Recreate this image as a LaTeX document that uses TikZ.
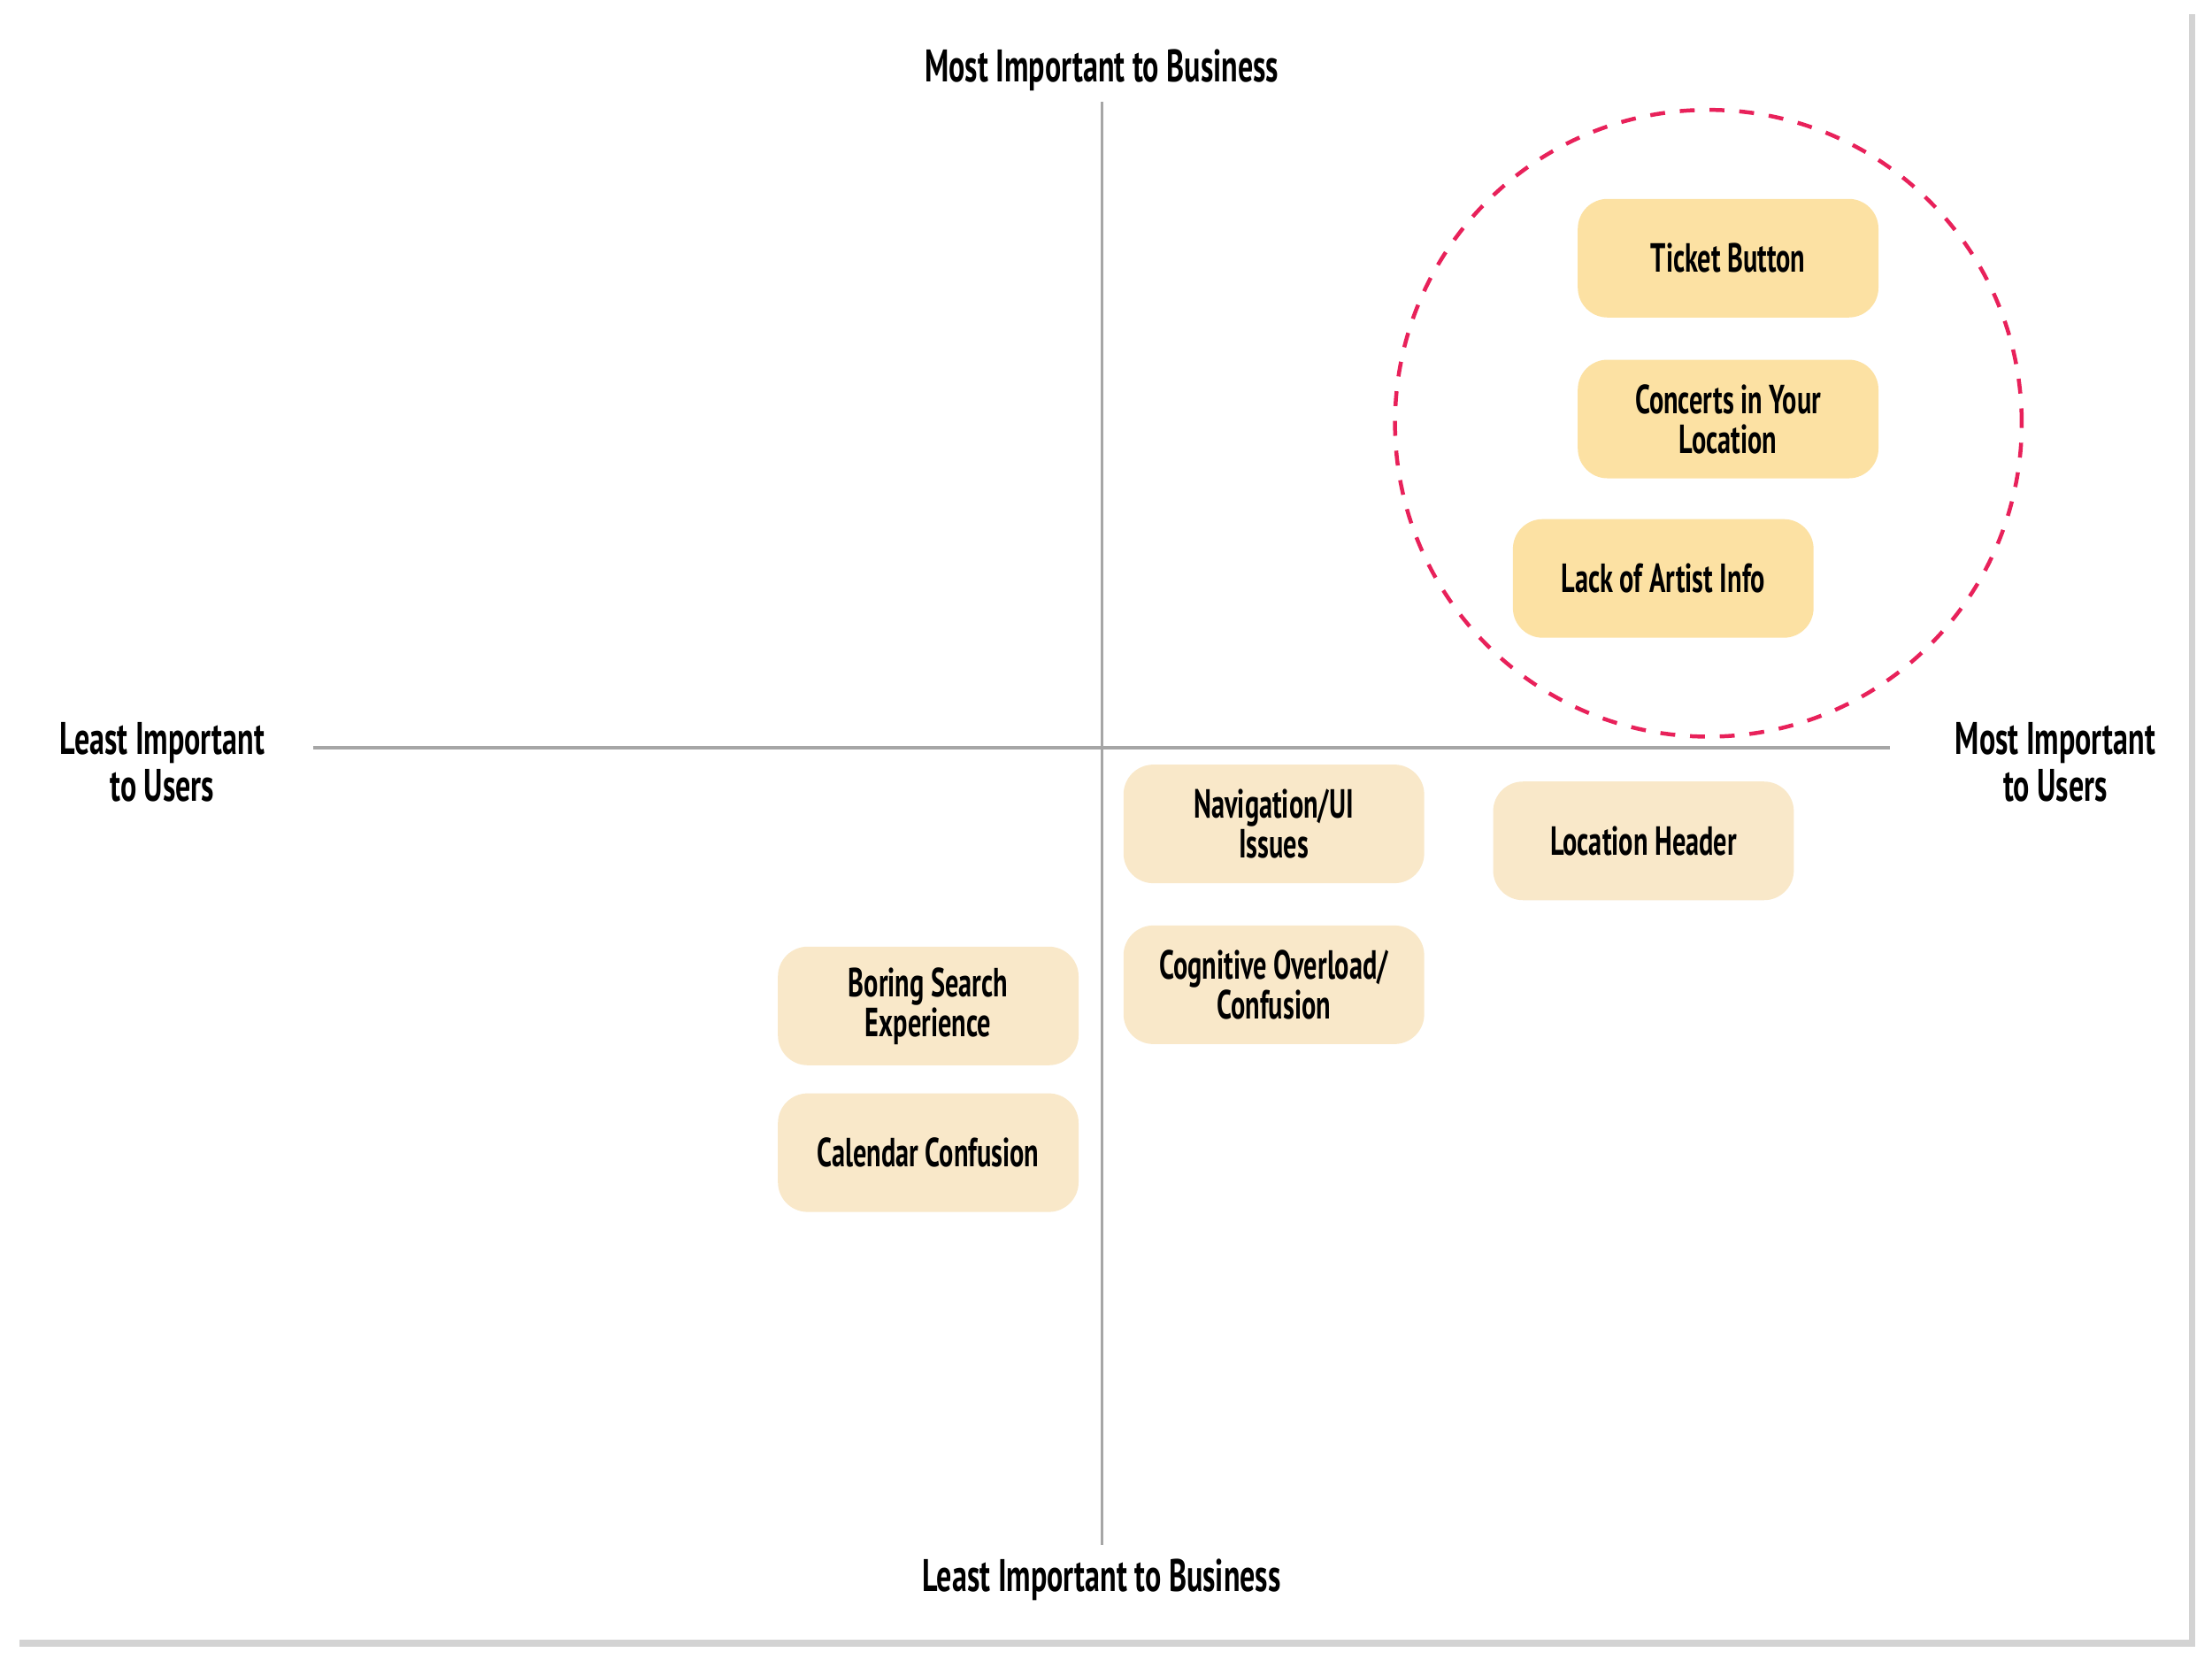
\documentclass[tikz,border=0pt]{standalone}
\usepackage{fontspec}
\setmainfont[FakeStretch=0.66]{PT Sans}
\usetikzlibrary{shadows}
\definecolor{hi}{HTML}{FCE1A3}
\definecolor{lo}{HTML}{F9E8C9}
\definecolor{ring}{HTML}{E8215A}
\tikzset{
 card/.style={rounded corners=6pt,minimum width=2.13cm,minimum height=0.84cm,align=center,
   font=\fontsize{8.2}{8}\selectfont\bfseries,inner sep=1pt},
 hot/.style={card,fill=hi},
 mild/.style={card,fill=lo},
 axlab/.style={font=\fontsize{9.2}{9.4}\selectfont\bfseries,align=center},
 axis/.style={draw=gray!70,line width=0.6pt}
}
\begin{document}
\begin{tikzpicture}[x=0.01cm,y=-0.01cm]
\useasboundingbox (0,0) rectangle (1568,1182);
\fill[white,drop shadow={shadow xshift=0.04cm,shadow yshift=-0.05cm,opacity=0.35}] (10,5) rectangle (1552,1162);
\coordinate (vt) at (781,72); \coordinate (vb) at (781,1095);
\coordinate (hl) at (222,530); \coordinate (hr) at (1340,530);
\draw[axis] (vt) -- (vb);
\draw[axis] (hl) -- (hr);
\node[axlab] (top) at (781,50) {Most Important to Business};
\node[axlab] (bot) at (781,1120) {Least Important to Business};
\node[axlab] (left) at (115,540) {Least Important\\to Users};
\node[axlab] (right) at (1457,540) {Most Important\\to Users};
\node[draw=ring,dashed,line width=0.8pt,circle,minimum size=4.44cm] (c) at (1211,300) {};
\node[hot] (t) at (1225,183) {Ticket Button};
\node[hot] (co) at (1225,297) {Concerts in Your\\Location};
\node[hot] (la) at (1179,410) {Lack of Artist Info};
\node[mild] (n) at (903,584) {Navigation/UI\\Issues};
\node[mild] (lh) at (1165,596) {Location Header};
\node[mild] (cg) at (903,698) {Cognitive Overload/\\Confusion};
\node[mild] (b) at (658,713) {Boring Search\\Experience};
\node[mild] (ca) at (658,817) {Calendar Confusion};
\end{tikzpicture}
\end{document}
